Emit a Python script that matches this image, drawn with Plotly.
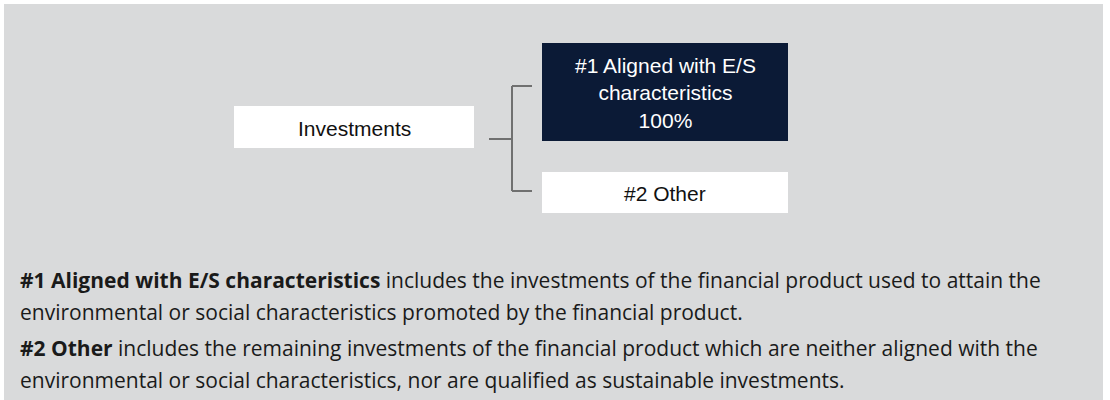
import plotly.graph_objects as go

# ---- content ----
root_label = "Investments"
child_labels = ["#1 Aligned with E/S<br>characteristics", "#2 Other"]
child_shares = ["100%", ""]
notes_bold = ["#1 Aligned with E/S characteristics", "#2 Other"]
notes_text = [
    [" includes the investments of the financial product used to attain the",
     "environmental or social characteristics promoted by the financial product."],
    [" includes the remaining investments of the financial product which are neither aligned with the",
     "environmental or social characteristics, nor are qualified as sustainable investments."],
]

# ---- layout (positions / styles) ----
W, H = 1110, 400
BG = "#d9dadb"
NAVY = "#0b1a36"
LINE = "#707070"
root_box = (234, 106, 474, 148)
child_boxes = [(542, 43, 788, 141), (542, 172, 788, 213)]
child_fill = [NAVY, "white"]
child_font = ["white", "#111111"]
bracket_x, stub_x2 = 512, 532
bracket_y = (86, 191)
conn = (489, 139)
note_y = [[280, 312], [348, 380]]
note_x = 18

fig = go.Figure()
shapes = []
shapes.append(dict(type="rect", x0=4, y0=4, x1=1103, y1=H + 5, fillcolor=BG, line=dict(width=0), layer="below"))
x0, y0, x1, y1 = root_box
shapes.append(dict(type="rect", x0=x0, y0=y0, x1=x1, y1=y1, fillcolor="white", line=dict(width=0)))
for (bx0, by0, bx1, by1), fc in zip(child_boxes, child_fill):
    shapes.append(dict(type="rect", x0=bx0, y0=by0, x1=bx1, y1=by1, fillcolor=fc, line=dict(width=0)))
ln = dict(color=LINE, width=2)
shapes.append(dict(type="line", x0=bracket_x, x1=bracket_x, y0=bracket_y[0], y1=bracket_y[1], line=ln))
shapes.append(dict(type="line", x0=bracket_x, x1=stub_x2, y0=bracket_y[0], y1=bracket_y[0], line=ln))
shapes.append(dict(type="line", x0=bracket_x, x1=stub_x2, y0=bracket_y[1], y1=bracket_y[1], line=ln))
shapes.append(dict(type="line", x0=conn[0], x1=bracket_x, y0=conn[1], y1=conn[1], line=ln))

ann = []
dfont = "Liberation Sans, Arial, sans-serif"
ann.append(dict(x=(x0 + x1) / 2, y=(y0 + y1) / 2 + 1, text=root_label, showarrow=False,
                font=dict(family=dfont, size=21, color="#111111"), xanchor="center", yanchor="middle"))
for (bx0, by0, bx1, by1), lab, sh, fcol in zip(child_boxes, child_labels, child_shares, child_font):
    txt = lab + ("<br>" + sh if sh else "")
    ann.append(dict(x=(bx0 + bx1) / 2, y=(by0 + by1) / 2 + 1, text=txt, showarrow=False,
                    font=dict(family=dfont, size=21, color=fcol), xanchor="center", yanchor="middle",
                    align="center"))
nfont = "Open Sans, sans-serif"
NS = 21
for b, lines, ys in zip(notes_bold, notes_text, note_y):
    ann.append(dict(x=note_x, y=ys[0], text="<b>" + b + "</b>" + lines[0], showarrow=False,
                    font=dict(family=nfont, size=NS, color="#1a1a1a"), xanchor="left", yanchor="middle"))
    ann.append(dict(x=note_x, y=ys[1], text=lines[1], showarrow=False,
                    font=dict(family=nfont, size=NS, color="#1a1a1a"), xanchor="left", yanchor="middle"))

fig.update_layout(
    width=W, height=H, margin=dict(l=0, r=0, t=0, b=0),
    paper_bgcolor="white", plot_bgcolor="white",
    xaxis=dict(range=[0, W], visible=False, fixedrange=True),
    yaxis=dict(range=[H, 0], visible=False, fixedrange=True),
    shapes=shapes, annotations=ann, showlegend=False,
)
fig.write_html("out.html", config={"displayModeBar": False},
               post_script="document.body.style.margin='0';document.body.style.overflow='hidden';")
